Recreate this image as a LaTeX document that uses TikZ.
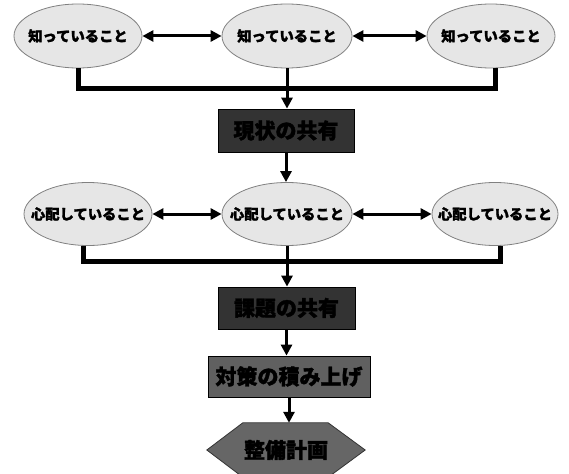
\documentclass[tikz,border=0pt]{standalone}
\usepackage{fontspec}
\newfontfamily\jpfont{Noto Sans CJK JP}[BoldFeatures={FakeBold=1.6}]
\usetikzlibrary{arrows.meta,shapes.geometric,backgrounds}
\definecolor{bubble}{HTML}{E6E6E6}
\definecolor{bubbleline}{HTML}{808080}
\definecolor{darkstage}{HTML}{333333}
\definecolor{midstage}{HTML}{606060}
\definecolor{planfill}{HTML}{666666}
% label that does not widen its ellipse
\newcommand\flatlabel[1]{\makebox[0pt]{#1}}
\tikzset{
  idea/.style={ellipse, draw=bubbleline, fill=bubble, line width=0.8pt,
    minimum width=128pt, minimum height=64pt, inner sep=0pt,
    font=\jpfont\bfseries\fontsize{14.3}{16}\selectfont},
  stage/.style={rectangle, draw=black, fill=darkstage, line width=0.8pt,
    inner sep=0pt, font=\jpfont\bfseries\fontsize{21}{23}\selectfont},
  linkarrow/.style={{Triangle[length=11pt,width=11pt]}-{Triangle[length=11pt,width=11pt]}, line width=3pt},
  flow/.style={-{Triangle[length=11pt,width=11pt]}, line width=3pt},
  bus/.style={line width=5pt, line join=miter}
}
\begin{document}
\begin{tikzpicture}[x=1pt,y=-1pt]
\useasboundingbox (0,0) rectangle (569,473);
\clip (0,0) rectangle (569,473);

% what is known
\node[idea] (k1) at (78,36) {\flatlabel{知っていること}};
\node[idea, minimum width=130pt] (k2) at (287,36) {\flatlabel{知っていること}};
\node[idea] (k3) at (491,36) {\flatlabel{知っていること}};
\coordinate (j1) at (287,89);

\node[stage, minimum width=136pt, minimum height=43pt] (s1) at (286,130.5) {現状の共有};

% what is worried about
\node[idea, minimum height=63pt] (w1) at (88,214) {\flatlabel{心配していること}};
\node[idea, minimum width=130pt, minimum height=63pt] (w2) at (287,214) {\flatlabel{心配していること}};
\node[idea, minimum width=126pt, minimum height=63pt] (w3) at (495,214) {\flatlabel{心配していること}};
\coordinate (j2) at (287,261);

\node[stage, minimum width=137pt, minimum height=42pt] (s2) at (286.5,308) {課題の共有};
\node[stage, fill=midstage, minimum width=162pt, minimum height=41pt] (s3) at (289,376.5) {対策の積み上げ};
\node[font=\jpfont\bfseries\fontsize{21}{23}\selectfont, minimum width=158pt, minimum height=54pt, inner sep=0pt] (plan) at (286,450) {整備計画};
\begin{pgfonlayer}{background}
\draw[draw=darkstage, fill=planfill, line width=0.8pt]
  (plan.west) -- ([xshift=36pt]plan.north west) -- ([xshift=-37pt]plan.north east)
  -- (plan.east) -- ([xshift=-37pt]plan.south east) -- ([xshift=36pt]plan.south west) -- cycle;
\end{pgfonlayer}

% connectors
\draw[linkarrow] (k1) -- (k2);
\draw[linkarrow] (k2) -- (k3);
\draw[bus] (k1.south) |- (j1) -| ([xshift=4pt]k3.south);
\draw[flow] (k2.south) -- (k2.south |- s1.north);
\draw[flow] (s1.south) -- (s1.south |- w2.north);

\draw[linkarrow] (w1) -- (w2);
\draw[linkarrow] (w2) -- (w3);
\draw[bus] ([xshift=-5pt]w1.south) |- (j2) -| ([xshift=5pt]w3.south);
\draw[flow] (w2.south) -- (w2.south |- s2.north);
\draw[flow] (s2.south) -- (s2.south |- s3.north);
\draw[flow] (s3.south) -- (s3.south |- plan.north);
\end{tikzpicture}
\end{document}
